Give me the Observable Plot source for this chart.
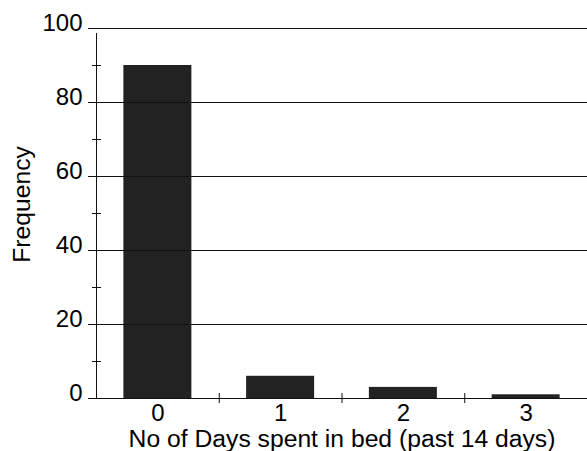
<!DOCTYPE html>
<html>
<head>
<meta charset="utf-8">
<script src="https://cdn.jsdelivr.net/npm/d3@7"></script>
<script src="https://cdn.jsdelivr.net/npm/@observablehq/plot@0.6"></script>
<style>
  html, body { margin: 0; padding: 0; background: #fff; }
</style>
</head>
<body>
<div id="chart"></div>
<script>
const days = [0, 1, 2, 3];
const frequency = [90, 6, 3, 1];
const yTicks = [0, 20, 40, 60, 80, 100];
const yMinorTicks = [10, 30, 50, 70, 90];
const xBoundaries = [0.5, 1.5, 2.5];
const xTitle = "No of Days spent in bed (past 14 days)";
const yTitle = "Frequency";

const data = days.map((d, i) => ({day: d, freq: frequency[i]}));
const half = 0.277;

const chart = Plot.plot({
  width: 587,
  height: 451,
  marginLeft: 96,
  marginRight: 0,
  marginTop: 28,
  marginBottom: 53,
  style: {fontFamily: "'Liberation Sans', Arial, sans-serif", fontSize: "24px", color: "#000", background: "#fff"},
  x: {domain: [-0.5, 3.5], axis: null},
  y: {domain: [0, 100], axis: null},
  marks: [
    Plot.rectY(data, {x1: d => d.day - half, x2: d => d.day + half, y1: 0, y2: "freq", fill: "#222"}),
    Plot.ruleY(yTicks, {y: d => d, x1: -0.5, x2: 3.5, insetLeft: -8, stroke: "#111", strokeWidth: 1}),
    Plot.ruleY(yMinorTicks, {y: d => d, x1: -0.5, x2: -0.5, insetLeft: -4, insetRight: -5, stroke: "#111", strokeWidth: 1}),
    Plot.ruleX(xBoundaries, {x: d => d, y1: 0, y2: 0, insetTop: -5, insetBottom: -5, stroke: "#111", strokeWidth: 1}),
    Plot.ruleX([-0.5], {x: d => d, y1: 0, y2: 100, insetBottom: -5, stroke: "#111", strokeWidth: 1}),
    Plot.text(yTicks, {y: d => d, text: d => String(d), frameAnchor: "left", textAnchor: "end", lineAnchor: "middle", dx: -14, dy: -5, fill: "#000", fontSize: 24}),
    Plot.axisX({ticks: days, tickSize: 0, tickPadding: 5, tickFormat: d => String(d), label: null, fill: "#000", fontSize: 24}),
    Plot.text([xTitle], {text: d => d, frameAnchor: "bottom", textAnchor: "middle", lineAnchor: "middle", dy: 41, fill: "#000", fontSize: 24.7}),
    Plot.text([yTitle], {text: d => d, frameAnchor: "left", rotate: -90, textAnchor: "middle", lineAnchor: "middle", dx: -74, dy: -9, fill: "#000", fontSize: 24.7})
  ]
});
document.getElementById("chart").appendChild(chart);
</script>
</body>
</html>
